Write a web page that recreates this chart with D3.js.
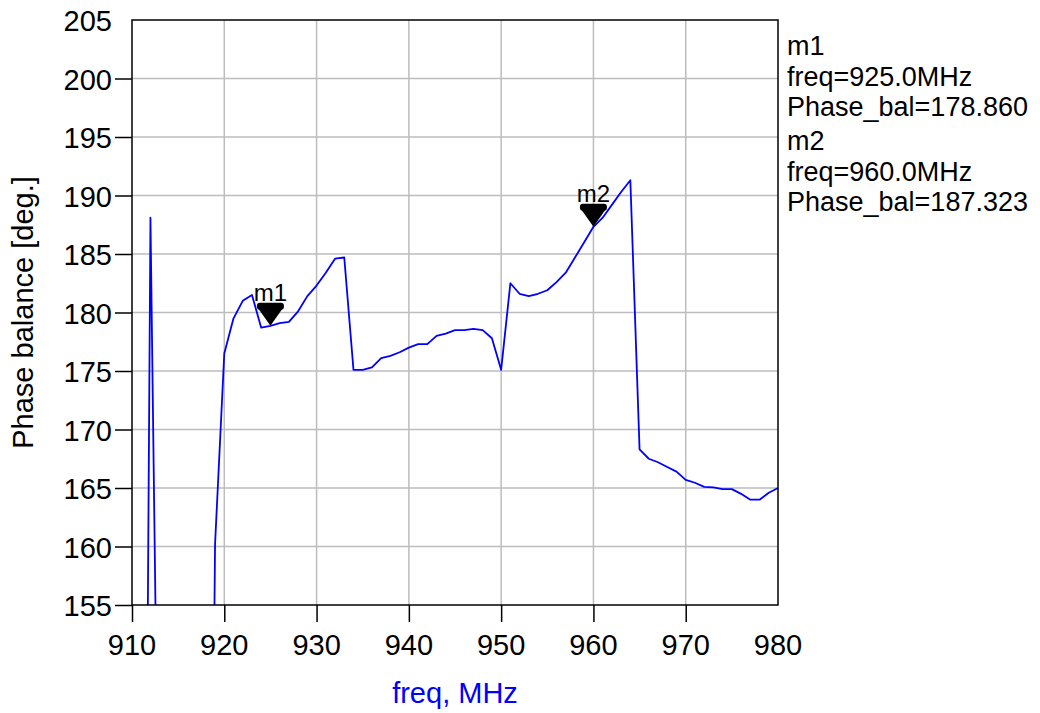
<!DOCTYPE html>
<html>
<head>
<meta charset="utf-8">
<script src="https://cdn.jsdelivr.net/npm/d3@7/dist/d3.min.js"></script>
<style>
  html, body { margin: 0; padding: 0; background: #ffffff; }
  svg { display: block; font-family: "Liberation Sans", Arial, Helvetica, sans-serif; }
</style>
</head>
<body>
<svg id="chart" width="1040" height="713"></svg>
<script>
// ---- data ----
const freqs = [910, 911, 912, 913, 914, 915, 916, 917, 918, 919,
               920, 921, 922, 923, 924, 925, 926, 927, 928, 929,
               930, 931, 932, 933, 934, 935, 936, 937, 938, 939,
               940, 941, 942, 943, 944, 945, 946, 947, 948, 949,
               950, 951, 952, 953, 954, 955, 956, 957, 958, 959,
               960, 961, 962, 963, 964, 965, 966, 967, 968, 969,
               970, 971, 972, 973, 974, 975, 976, 977, 978, 979, 980];
const phaseBal = [60, 70, 188.1, 127, 120, 115, 110, 100, 77, 160.2,
                  176.5, 179.5, 181.0, 181.5, 178.7, 178.86, 179.1, 179.2, 180.1, 181.4,
                  182.3, 183.4, 184.6, 184.7, 175.1, 175.1, 175.3, 176.1, 176.3, 176.6,
                  177.0, 177.3, 177.3, 178.0, 178.2, 178.5, 178.5, 178.6, 178.5, 177.8,
                  175.1, 182.5, 181.6, 181.4, 181.6, 181.9, 182.6, 183.4, 184.7, 186.0,
                  187.323, 188.1, 189.2, 190.3, 191.3, 168.3, 167.5, 167.2, 166.8, 166.4,
                  165.7, 165.45, 165.1, 165.05, 164.9, 164.9, 164.5, 164.0, 164.0, 164.6, 165.0];
const xTicks = [910, 920, 930, 940, 950, 960, 970, 980];
const yTicks = [155, 160, 165, 170, 175, 180, 185, 190, 195, 200, 205];
const markerNames = ["m1", "m2"];
const markerFreqs = [925.0, 960.0];
const markerVals = [178.860, 187.323];

// ---- layout ----
const L = 132, R = 778, T = 20, B = 605;
const svg = d3.select("#chart");
const x = d3.scaleLinear().domain([910, 980]).range([L, R]);
const y = d3.scaleLinear().domain([155, 205]).range([B, T]);

const gridColor = "#bdbdbd";

// grid
svg.append("g").selectAll("line.vg")
  .data(xTicks.filter(d => d > 910 && d < 980)).join("line")
  .attr("x1", d => x(d)).attr("x2", d => x(d))
  .attr("y1", T).attr("y2", B)
  .attr("stroke", gridColor).attr("stroke-width", 1.5);
svg.append("g").selectAll("line.hg")
  .data(yTicks.filter(d => d > 155 && d < 205)).join("line")
  .attr("x1", L).attr("x2", R)
  .attr("y1", d => y(d)).attr("y2", d => y(d))
  .attr("stroke", gridColor).attr("stroke-width", 1.5);

// data line
svg.append("defs").append("clipPath").attr("id", "clip")
  .append("rect").attr("x", L).attr("y", T).attr("width", R - L + 3).attr("height", B - T);

const pts = freqs.map((f, i) => [f, phaseBal[i]]);
const line = d3.line().x(d => x(d[0])).y(d => y(d[1]));
svg.append("path")
  .attr("d", line(pts))
  .attr("clip-path", "url(#clip)")
  .attr("fill", "none")
  .attr("stroke", "#0000ff")
  .attr("stroke-width", 1.8)
  .attr("stroke-linejoin", "round");

// frame
svg.append("rect").attr("x", L).attr("y", T).attr("width", R - L).attr("height", B - T)
  .attr("fill", "none").attr("stroke", "#000").attr("stroke-width", 1.5);

// axes
const xAxis = d3.axisBottom(x).tickValues(xTicks.filter(d => d < 980)).tickSize(17).tickFormat("");
svg.append("g").attr("transform", `translate(0,${B})`).call(xAxis)
  .call(g => g.select(".domain").remove())
  .call(g => g.selectAll(".tick line").attr("stroke", "#000").attr("stroke-width", 1.5));
svg.append("g").selectAll("text.xt").data(xTicks).join("text")
  .attr("x", d => x(d)).attr("y", 655)
  .attr("text-anchor", "middle").attr("font-size", 29).attr("fill", "#000")
  .text(d => d);

const yAxis = d3.axisLeft(y).tickValues(yTicks.filter(d => d < 205)).tickSize(17).tickFormat("");
svg.append("g").attr("transform", `translate(${L},0)`).call(yAxis)
  .call(g => g.select(".domain").remove())
  .call(g => g.selectAll(".tick line").attr("stroke", "#000").attr("stroke-width", 1.5));
svg.append("g").selectAll("text.yt").data(yTicks).join("text")
  .attr("x", 112).attr("y", d => y(d) + 11)
  .attr("text-anchor", "end").attr("font-size", 29).attr("fill", "#000")
  .text(d => d);

// axis titles
svg.append("text")
  .attr("x", (L + R) / 2).attr("y", 703)
  .attr("text-anchor", "middle").attr("font-size", 29).attr("fill", "#0000ff")
  .text("freq, MHz");
svg.append("text")
  .attr("transform", `translate(33,${(T + B) / 2}) rotate(-90)`)
  .attr("text-anchor", "middle").attr("font-size", 29).attr("fill", "#000")
  .text("Phase balance [deg.]");

// markers
markerNames.forEach((name, i) => {
  const mx = x(markerFreqs[i]), my = y(markerVals[i]);
  const g = svg.append("g");
  g.append("rect").attr("x", mx - 13.5).attr("y", my - 23).attr("width", 27).attr("height", 7)
    .attr("rx", 3).attr("fill", "#000");
  g.append("path")
    .attr("d", `M${mx - 12},${my - 17} L${mx + 12},${my - 17} L${mx},${my} Z`)
    .attr("fill", "#000");
  g.append("text").attr("x", mx).attr("y", my - 25)
    .attr("text-anchor", "middle").attr("font-size", 24).attr("fill", "#000")
    .text(name);
});

// marker readouts
const readout = [];
markerNames.forEach((name, i) => {
  readout.push(name);
  readout.push("freq=" + markerFreqs[i].toFixed(1) + "MHz");
  readout.push("Phase_bal=" + markerVals[i].toFixed(3));
});
const readY = [55, 86, 116, 150, 181, 211];
svg.append("g").selectAll("text.ro").data(readout).join("text")
  .attr("x", 787).attr("y", (d, i) => readY[i])
  .attr("font-size", 27).attr("fill", "#000")
  .text(d => d);
</script>
</body>
</html>
